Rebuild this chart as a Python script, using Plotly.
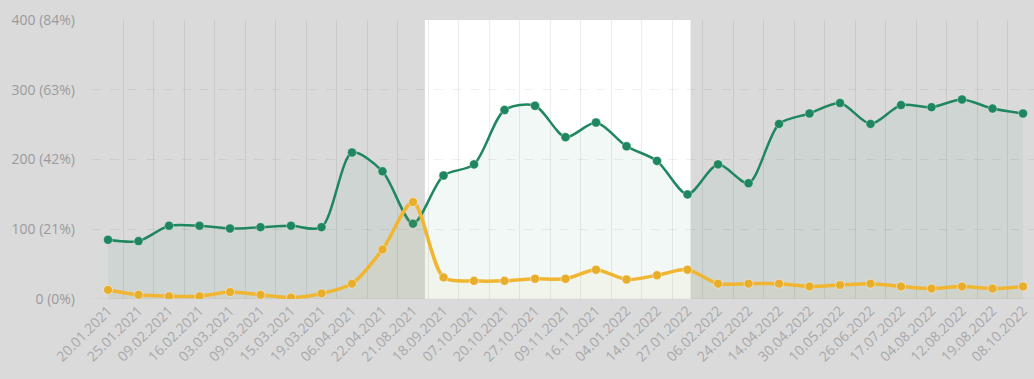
import plotly.graph_objects as go

dates = ["20.01.2021", "25.01.2021", "09.02.2021", "16.02.2021", "03.03.2021", "09.03.2021",
         "15.03.2021", "19.03.2021", "06.04.2021", "22.04.2021", "21.08.2021", "18.09.2021",
         "07.10.2021", "20.10.2021", "27.10.2021", "09.11.2021", "16.11.2021", "04.01.2022",
         "14.01.2022", "27.01.2022", "06.02.2022", "24.02.2022", "14.04.2022", "30.04.2022",
         "10.05.2022", "26.06.2022", "17.07.2022", "04.08.2022", "12.08.2022", "19.08.2022",
         "08.10.2022"]

green_vals = [85, 83, 105, 105, 101, 103, 105, 103, 210, 183, 108, 177,
              193, 271, 277, 232, 253, 219, 198, 150, 193, 166, 251, 266,
              281, 251, 278, 275, 286, 273, 266]

yellow_vals = [13, 6, 4, 4, 10, 6, 2, 8, 22, 71, 139, 31,
               26, 26, 29, 29, 42, 28, 34, 42, 22, 22, 22, 18,
               20, 22, 18, 15, 18, 15, 18]

y_tick_vals = [0, 100, 200, 300, 400]
y_tick_text = ["0 (0%)", "100 (21%)", "200 (42%)", "300 (63%)", "400 (84%)"]

highlight_start = 10.39
highlight_end = 19.1

GREEN = "#1f8760"
YELLOW = "#f0b631"
BG = "#dadada"

fig = go.Figure()

fig.add_trace(go.Scatter(
    x=dates, y=green_vals, mode="lines+markers",
    line=dict(color=GREEN, width=2.5, shape="spline", smoothing=0.8),
    marker=dict(color=GREEN, size=9, line=dict(color="rgba(255,255,255,0.35)", width=1)),
    fill="tozeroy", fillcolor="rgba(31,135,96,0.06)",
    hoverinfo="skip",
))
fig.add_trace(go.Scatter(
    x=dates, y=yellow_vals, mode="lines+markers",
    line=dict(color=YELLOW, width=3.5, shape="spline", smoothing=0.8),
    marker=dict(color="#e8ad2a", size=9, line=dict(color="rgba(255,255,255,0.45)", width=1)),
    fill="tozeroy", fillcolor="rgba(240,182,49,0.06)",
    hoverinfo="skip",
))

fig.add_shape(type="rect", xref="x", yref="paper",
              x0=highlight_start, x1=highlight_end, y0=0, y1=1,
              fillcolor="white", line=dict(width=0), layer="below")

n = len(dates)
fig.update_layout(
    width=1034, height=379,
    margin=dict(l=92, r=0, t=20, b=80),
    paper_bgcolor=BG, plot_bgcolor=BG,
    showlegend=False,
    font=dict(family="Open Sans", size=14, color="#9a9a9e"),
    xaxis=dict(
        type="category", range=[-0.525, n - 1 + 0.36],
        tickson="boundaries", showgrid=True, gridcolor="rgba(0,0,0,0.075)", gridwidth=1,
        tickangle=-45, tickfont=dict(size=14, color="#a8a8ab"),
        ticks="", showline=False, zeroline=False, fixedrange=True,
    ),
    yaxis=dict(
        range=[0, 400], tickvals=y_tick_vals, ticktext=y_tick_text,
        showgrid=True, gridcolor="rgba(0,0,0,0.06)", griddash="dash", gridwidth=1,
        zeroline=False, showline=False, ticks="", ticklabelstandoff=16,
        tickfont=dict(size=14, color="#9a9a9e"), fixedrange=True,
    ),
)
fig.add_shape(type="line", xref="paper", yref="y", x0=0, x1=1, y0=0, y1=0,
              line=dict(color="rgba(0,0,0,0.06)", width=1), layer="below")

fig.write_html("out.html",
               config={"displayModeBar": False, "staticPlot": True},
               post_script="document.body.style.margin='0';document.body.style.background='#dadada';")
